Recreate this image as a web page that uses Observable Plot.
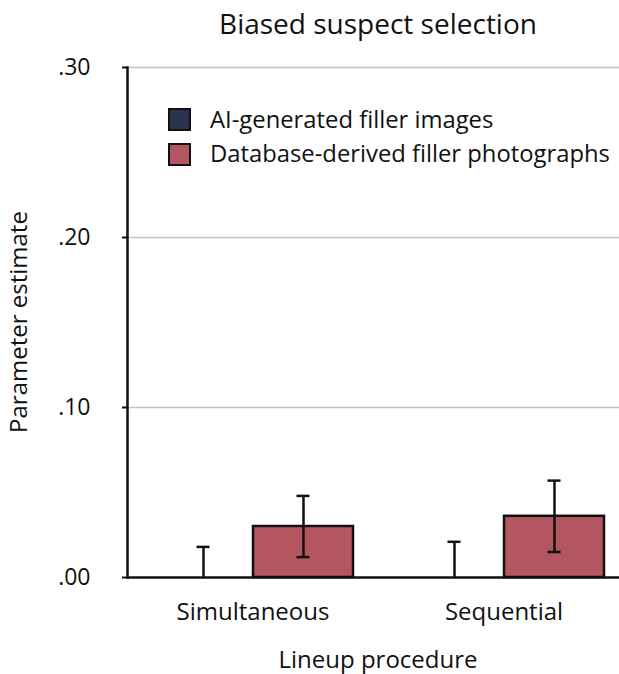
<!DOCTYPE html>
<html>
<head>
<meta charset="utf-8">
<script src="https://cdn.jsdelivr.net/npm/d3@7"></script>
<script src="https://cdn.jsdelivr.net/npm/@observablehq/plot@0.6"></script>
<style>
  html, body { margin: 0; padding: 0; background: #fff; overflow: hidden; }
  #wrap { position: relative; width: 619px; height: 674px; font-family: "Open Sans", sans-serif; color: #111; overflow: hidden; }
  .abs { position: absolute; white-space: nowrap; line-height: 1; }
  #title { left: 378px; top: 8.5px; font-size: 28px; transform: translateX(-50%); }
  #xlabel { left: 378px; top: 646.5px; font-size: 24px; transform: translateX(-50%); }
  #ylabel { left: 17.5px; top: 322px; font-size: 24px; transform: translate(-50%, -50%) rotate(-90deg); }
  #legend { left: 168px; top: 108px; }
  .row { display: flex; align-items: center; height: 23px; margin-bottom: 11.5px; }
  .sw { width: 19px; height: 19px; border: 2px solid #111; box-sizing: content-box; }
  .lt { margin-left: 19px; font-size: 23.8px; line-height: 1; }
</style>
</head>
<body>
<div id="wrap"></div>
<script>
const procedures = ["Simultaneous", "Sequential"];
const seriesNames = ["AI-generated filler images", "Database-derived filler photographs"];
const seriesColors = ["#273350", "#b35660"];
const aiEstimate = [0.000, 0.000];
const aiLower = [0.000, 0.000];
const aiUpper = [0.018, 0.021];
const dbEstimate = [0.030, 0.036];
const dbLower = [0.012, 0.015];
const dbUpper = [0.048, 0.057];
const yTicks = [0, 0.10, 0.20, 0.30];
const titleText = "Biased suspect selection";
const xTitle = "Lineup procedure";
const yTitle = "Parameter estimate";

const data = procedures.flatMap((p, i) => [
  {procedure: p, series: seriesNames[0], estimate: aiEstimate[i], lower: aiLower[i], upper: aiUpper[i]},
  {procedure: p, series: seriesNames[1], estimate: dbEstimate[i], lower: dbLower[i], upper: dbUpper[i]}
]);

const fmt = d => d3.format(".2f")(d).replace(/^0/, "");

const chart = Plot.plot({
  width: 619,
  height: 674,
  marginTop: 67,
  marginBottom: 97,
  marginLeft: 127,
  marginRight: 0,
  style: {fontFamily: "'Open Sans', sans-serif", fontSize: "20px", color: "#111", background: "transparent"},
  fx: {domain: procedures, range: [127, 629], padding: 0, label: null},
  x: {domain: seriesNames, paddingInner: 0, paddingOuter: 0.25, axis: null},
  y: {domain: [0, 0.30], label: null},
  color: {domain: seriesNames, range: seriesColors},
  marks: [
    Plot.gridY(yTicks.filter(d => d > 0), {stroke: "#c4c4c4", strokeOpacity: 1, strokeWidth: 1.5}),
    Plot.barY(data, {fx: "procedure", x: "series", y: "estimate", fill: "series", stroke: "#111", strokeWidth: 2.5}),
    Plot.ruleX(data, {fx: "procedure", x: "series", y1: "lower", y2: "upper", stroke: "#111", strokeWidth: 2.5}),
    Plot.tickY(data, {fx: "procedure", x: "series", y: "upper", stroke: "#111", strokeWidth: 2.5, insetLeft: 43.5, insetRight: 43.5}),
    Plot.tickY(data.filter(d => d.lower > 0), {fx: "procedure", x: "series", y: "lower", stroke: "#111", strokeWidth: 2.5, insetLeft: 43.5, insetRight: 43.5}),
    Plot.ruleY([0], {stroke: "#111", strokeWidth: 2.5}),
    Plot.axisY({ticks: yTicks, tickFormat: fmt, tickSize: 5, tickPadding: 32, stroke: "#111", strokeWidth: 2, fontSize: 23, label: null}),
    Plot.axisFx({anchor: "bottom", tickSize: 0, tickPadding: 25, fontSize: 24, label: null}),
    Plot.frame({anchor: "left", stroke: "#111", strokeWidth: 2.5, facet: "super"})
  ]
});

const wrap = document.getElementById("wrap");
wrap.appendChild(chart);
chart.style.position = "absolute";
chart.style.left = "0px";
chart.style.top = "0px";

function addText(id, txt) {
  const d = document.createElement("div");
  d.id = id; d.className = "abs"; d.textContent = txt;
  wrap.appendChild(d);
}
addText("title", titleText);
addText("xlabel", xTitle);
addText("ylabel", yTitle);

const leg = document.createElement("div");
leg.id = "legend"; leg.className = "abs";
seriesNames.forEach((s, i) => {
  const row = document.createElement("div"); row.className = "row";
  const sw = document.createElement("div"); sw.className = "sw"; sw.style.background = seriesColors[i];
  const t = document.createElement("div"); t.className = "lt"; t.textContent = s;
  row.appendChild(sw); row.appendChild(t); leg.appendChild(row);
});
wrap.appendChild(leg);
</script>
</body>
</html>
